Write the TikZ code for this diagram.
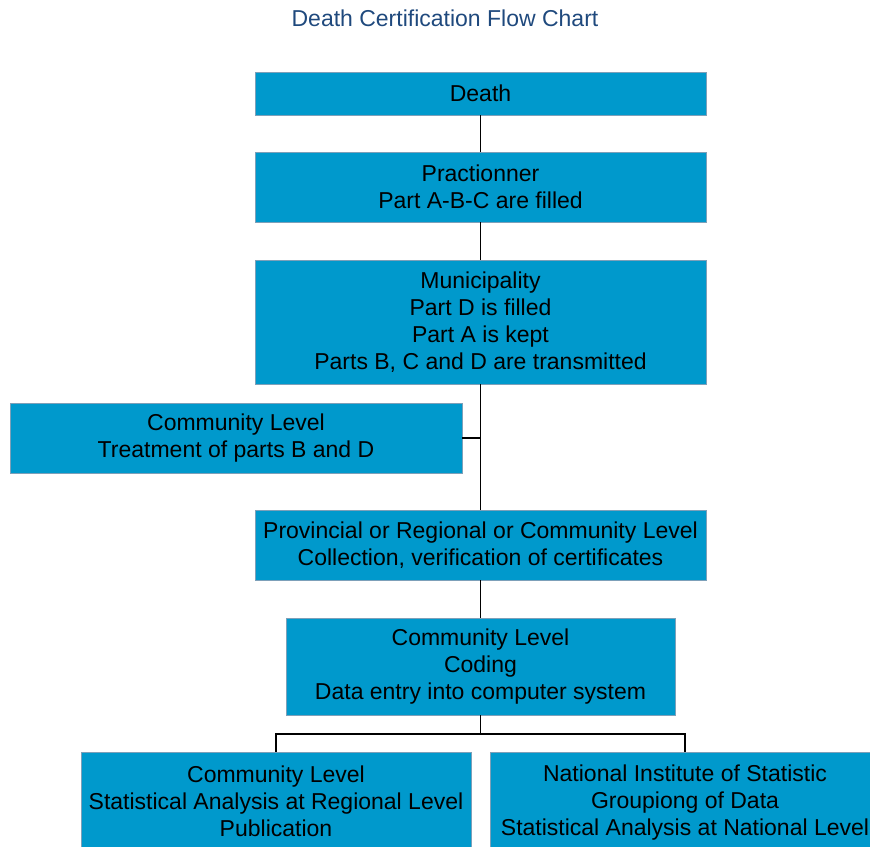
\documentclass[tikz,border=0pt]{standalone}
\usepackage{fontspec}
\setmainfont{Liberation Sans}
\definecolor{boxfill}{RGB}{0,153,204}
\definecolor{boxline}{RGB}{125,160,185}
\definecolor{titleblue}{RGB}{31,73,125}
\begin{document}
\begin{tikzpicture}[x=1pt,y=1pt,
  flowbox/.style={rectangle,draw=boxline,line width=0.8pt,fill=boxfill,align=center,
    inner sep=0pt,font=\fontsize{23}{27}\selectfont},
  link/.style={draw=black,line width=1.5pt}]
\clip (0,0) rectangle (870,-846);
\useasboundingbox (0,0) rectangle (870,-846);
\node[text=titleblue,font=\fontsize{23}{27}\selectfont] (title) at (445,-18) {Death Certification Flow Chart};
\node[flowbox,minimum width=451,minimum height=43] (death) at (480.5,-93.5) {Death};
\node[flowbox,minimum width=451,minimum height=70] (prac) at (480.5,-187) {Practionner\\Part A-B-C are filled};
\node[flowbox,minimum width=451,minimum height=124] (muni) at (480.5,-322) {Municipality\\Part D is filled\\Part A is kept\\Parts B, C and D are transmitted};
\node[flowbox,minimum width=452,minimum height=70] (comm) at (236,-438) {Community Level\\Treatment of parts B and D};
\node[flowbox,minimum width=451,minimum height=70] (prov) at (480.5,-545) {Provincial or Regional or Community Level\\Collection, verification of certificates};
\node[flowbox,minimum width=389,minimum height=97] (code) at (480.5,-666.5) {Community Level\\Coding\\Data entry into computer system};
\node[flowbox,minimum width=390,minimum height=98] (reg) at (276,-801) {Community Level\\Statistical Analysis at Regional Level\\Publication};
\node[flowbox,minimum width=390,minimum height=102] (nat) at (685,-803) {National Institute of Statistic\\Groupiong of Data\\Statistical Analysis at National Level};
\coordinate (junc) at (480.5,-438);
\coordinate (split) at (480.5,-734);
\path[link] (death.south) -- (prac.north);
\path[link] (prac.south) -- (muni.north);
\path[link] (muni.south) -- (prov.north);
\path[link] (junc) -- (comm.east);
\path[link] (prov.south) -- (code.north);
\path[link] (code.south) -- (split);
\path[link] (reg.north) |- (split) -| (nat.north);
\end{tikzpicture}
\end{document}
